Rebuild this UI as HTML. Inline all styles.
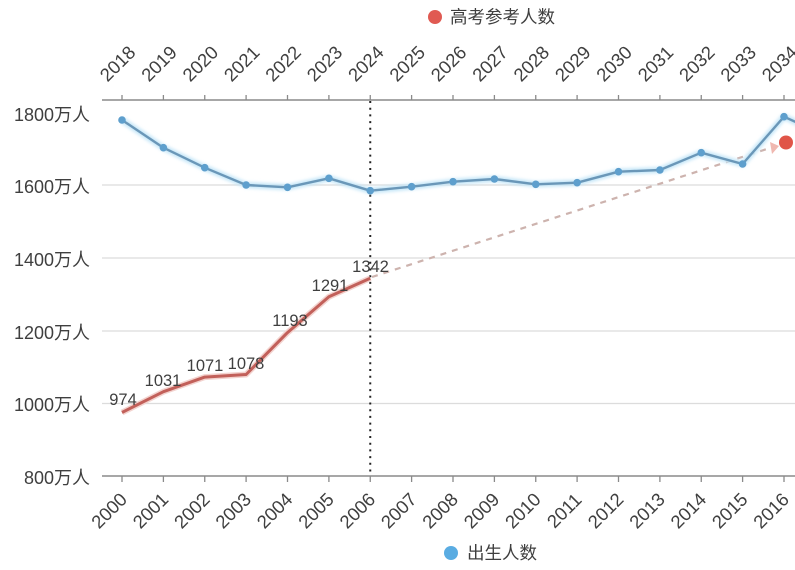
<!DOCTYPE html>
<html>
<head>
<meta charset="utf-8">
<style>
html,body{margin:0;padding:0;background:#fff;}
body{width:795px;height:570px;overflow:hidden;}
svg{display:block;}
text{font-family:"Liberation Sans","Noto Sans CJK SC",sans-serif;fill:#3f3f3f;}
</style>
</head>
<body>
<svg width="795" height="570" viewBox="0 0 795 570" xmlns="http://www.w3.org/2000/svg">
  <defs>
    <filter id="glowB" x="-10%" y="-10%" width="120%" height="120%">
      <feGaussianBlur stdDeviation="1.5"/>
    </filter>
  </defs>

  <!-- legend top -->
  <circle cx="435" cy="17" r="7" fill="#e05a52"/>
  <text x="450" y="23" font-size="17.5" fill="#555">高考参考人数</text>

  <!-- gridlines -->
  <g stroke="#dcdcdc" stroke-width="1.2">
    <line x1="102" y1="185" x2="795" y2="185"/>
    <line x1="102" y1="258" x2="795" y2="258"/>
    <line x1="102" y1="331" x2="795" y2="331"/>
    <line x1="102" y1="403.5" x2="795" y2="403.5"/>
  </g>

  <!-- axes -->
  <g stroke="#8a8a8a" stroke-width="1.5">
    <line x1="102" y1="100" x2="795" y2="100"/>
    <line x1="102" y1="476" x2="795" y2="476"/>
  </g>
  <g stroke="#8a8a8a" stroke-width="1.3">
    <line x1="122" y1="95" x2="122" y2="100"/><line x1="163.4" y1="95" x2="163.4" y2="100"/>
    <line x1="204.75" y1="95" x2="204.75" y2="100"/><line x1="246.1" y1="95" x2="246.1" y2="100"/>
    <line x1="287.5" y1="95" x2="287.5" y2="100"/><line x1="328.9" y1="95" x2="328.9" y2="100"/>
    <line x1="370.25" y1="95" x2="370.25" y2="100"/><line x1="411.6" y1="95" x2="411.6" y2="100"/>
    <line x1="453" y1="95" x2="453" y2="100"/><line x1="494.4" y1="95" x2="494.4" y2="100"/>
    <line x1="535.75" y1="95" x2="535.75" y2="100"/><line x1="577.1" y1="95" x2="577.1" y2="100"/>
    <line x1="618.5" y1="95" x2="618.5" y2="100"/><line x1="659.9" y1="95" x2="659.9" y2="100"/>
    <line x1="701.25" y1="95" x2="701.25" y2="100"/><line x1="742.6" y1="95" x2="742.6" y2="100"/>
    <line x1="784" y1="95" x2="784" y2="100"/>

    <line x1="122" y1="476" x2="122" y2="482"/><line x1="163.4" y1="476" x2="163.4" y2="482"/>
    <line x1="204.75" y1="476" x2="204.75" y2="482"/><line x1="246.1" y1="476" x2="246.1" y2="482"/>
    <line x1="287.5" y1="476" x2="287.5" y2="482"/><line x1="328.9" y1="476" x2="328.9" y2="482"/>
    <line x1="370.25" y1="476" x2="370.25" y2="482"/><line x1="411.6" y1="476" x2="411.6" y2="482"/>
    <line x1="453" y1="476" x2="453" y2="482"/><line x1="494.4" y1="476" x2="494.4" y2="482"/>
    <line x1="535.75" y1="476" x2="535.75" y2="482"/><line x1="577.1" y1="476" x2="577.1" y2="482"/>
    <line x1="618.5" y1="476" x2="618.5" y2="482"/><line x1="659.9" y1="476" x2="659.9" y2="482"/>
    <line x1="701.25" y1="476" x2="701.25" y2="482"/><line x1="742.6" y1="476" x2="742.6" y2="482"/>
    <line x1="784" y1="476" x2="784" y2="482"/>
  </g>

  <!-- y axis labels -->
  <g font-size="18" text-anchor="end">
    <text x="90" y="121">1800万人</text>
    <text x="90" y="193">1600万人</text>
    <text x="90" y="266">1400万人</text>
    <text x="90" y="339">1200万人</text>
    <text x="90" y="411">1000万人</text>
    <text x="90" y="484">800万人</text>
  </g>

  <!-- top year labels -->
  <g font-size="18.5" text-anchor="middle">
    <text transform="translate(117.5,63.5) rotate(-45)" y="6.5">2018</text>
    <text transform="translate(158.9,63.5) rotate(-45)" y="6.5">2019</text>
    <text transform="translate(200.25,63.5) rotate(-45)" y="6.5">2020</text>
    <text transform="translate(241.6,63.5) rotate(-45)" y="6.5">2021</text>
    <text transform="translate(283,63.5) rotate(-45)" y="6.5">2022</text>
    <text transform="translate(324.4,63.5) rotate(-45)" y="6.5">2023</text>
    <text transform="translate(365.75,63.5) rotate(-45)" y="6.5">2024</text>
    <text transform="translate(407.1,63.5) rotate(-45)" y="6.5">2025</text>
    <text transform="translate(448.5,63.5) rotate(-45)" y="6.5">2026</text>
    <text transform="translate(489.9,63.5) rotate(-45)" y="6.5">2027</text>
    <text transform="translate(531.25,63.5) rotate(-45)" y="6.5">2028</text>
    <text transform="translate(572.6,63.5) rotate(-45)" y="6.5">2029</text>
    <text transform="translate(614,63.5) rotate(-45)" y="6.5">2030</text>
    <text transform="translate(655.4,63.5) rotate(-45)" y="6.5">2031</text>
    <text transform="translate(696.75,63.5) rotate(-45)" y="6.5">2032</text>
    <text transform="translate(738.1,63.5) rotate(-45)" y="6.5">2033</text>
    <text transform="translate(779.5,63.5) rotate(-45)" y="6.5">2034</text>
  </g>

  <!-- bottom year labels -->
  <g font-size="18.5" text-anchor="middle">
    <text transform="translate(109,510.5) rotate(-45)" y="6.5">2000</text>
    <text transform="translate(150.4,510.5) rotate(-45)" y="6.5">2001</text>
    <text transform="translate(191.75,510.5) rotate(-45)" y="6.5">2002</text>
    <text transform="translate(233.1,510.5) rotate(-45)" y="6.5">2003</text>
    <text transform="translate(274.5,510.5) rotate(-45)" y="6.5">2004</text>
    <text transform="translate(315.9,510.5) rotate(-45)" y="6.5">2005</text>
    <text transform="translate(357.25,510.5) rotate(-45)" y="6.5">2006</text>
    <text transform="translate(398.6,510.5) rotate(-45)" y="6.5">2007</text>
    <text transform="translate(440,510.5) rotate(-45)" y="6.5">2008</text>
    <text transform="translate(481.4,510.5) rotate(-45)" y="6.5">2009</text>
    <text transform="translate(522.75,510.5) rotate(-45)" y="6.5">2010</text>
    <text transform="translate(564.1,510.5) rotate(-45)" y="6.5">2011</text>
    <text transform="translate(605.5,510.5) rotate(-45)" y="6.5">2012</text>
    <text transform="translate(646.9,510.5) rotate(-45)" y="6.5">2013</text>
    <text transform="translate(688.25,510.5) rotate(-45)" y="6.5">2014</text>
    <text transform="translate(729.6,510.5) rotate(-45)" y="6.5">2015</text>
    <text transform="translate(771,510.5) rotate(-45)" y="6.5">2016</text>
    <text transform="translate(812.4,510.5) rotate(-45)" y="6.5">2017</text>
  </g>

  <!-- vertical dotted line -->
  <line x1="370.25" y1="101" x2="370.25" y2="476" stroke="#222" stroke-width="2" stroke-dasharray="2 4.7"/>

  <!-- dashed projection line -->
  <line x1="372" y1="277" x2="770" y2="148" stroke="#cdb3ae" stroke-width="2.2" stroke-dasharray="6 6"/>
  <path d="M770,142 L779,146 L772,154 Z" fill="#f0b8b0"/>

  <!-- blue line glow -->
  <polyline fill="none" stroke="#c4e6f8" stroke-width="6" stroke-linejoin="round" filter="url(#glowB)"
    points="122,120 163.4,147.7 204.75,167.7 246.1,185 287.5,187.3 328.9,178.3 370.25,190.7 411.6,186.7 453,181.7 494.4,179 535.75,184.3 577.1,182.7 618.5,171.7 659.9,170 701.25,152.7 742.6,164 784,116.7 800,124"/>
  <polyline fill="none" stroke="#6a97b8" stroke-width="2.4" stroke-linejoin="round"
    points="122,120 163.4,147.7 204.75,167.7 246.1,185 287.5,187.3 328.9,178.3 370.25,190.7 411.6,186.7 453,181.7 494.4,179 535.75,184.3 577.1,182.7 618.5,171.7 659.9,170 701.25,152.7 742.6,164 784,116.7 800,124"/>
  <g fill="#5e9fcd">
    <circle cx="122" cy="120" r="3.8"/><circle cx="163.4" cy="147.7" r="3.8"/>
    <circle cx="204.75" cy="167.7" r="3.8"/><circle cx="246.1" cy="185" r="3.8"/>
    <circle cx="287.5" cy="187.3" r="3.8"/><circle cx="328.9" cy="178.3" r="3.8"/>
    <circle cx="370.25" cy="190.7" r="3.8"/><circle cx="411.6" cy="186.7" r="3.8"/>
    <circle cx="453" cy="181.7" r="3.8"/><circle cx="494.4" cy="179" r="3.8"/>
    <circle cx="535.75" cy="184.3" r="3.8"/><circle cx="577.1" cy="182.7" r="3.8"/>
    <circle cx="618.5" cy="171.7" r="3.8"/><circle cx="659.9" cy="170" r="3.8"/>
    <circle cx="701.25" cy="152.7" r="3.8"/><circle cx="742.6" cy="164" r="3.8"/>
    <circle cx="784" cy="116.7" r="3.8"/>
  </g>

  <!-- red line -->
  <polyline fill="none" stroke="#f3d3cf" stroke-width="6" stroke-linejoin="round"
    points="122,412.5 163.4,391.7 204.75,377.1 246.1,374.5 287.5,332.6 328.9,296.8 370.25,278.2"/>
  <polyline fill="none" stroke="#c2605a" stroke-width="3" stroke-linejoin="round"
    points="122,412.5 163.4,391.7 204.75,377.1 246.1,374.5 287.5,332.6 328.9,296.8 370.25,278.2"/>

  <!-- red end point -->
  <circle cx="786" cy="142.5" r="7" fill="#e05548"/>

  <!-- data labels -->
  <g font-size="16.5" text-anchor="middle">
    <text x="123" y="405">974</text>
    <text x="163" y="386">1031</text>
    <text x="205" y="371">1071</text>
    <text x="246" y="369">1078</text>
    <text x="290" y="326">1193</text>
    <text x="330" y="291">1291</text>
    <text x="370.5" y="272">1342</text>
  </g>

  <!-- legend bottom -->
  <circle cx="451" cy="553" r="7" fill="#5aace2"/>
  <text x="467" y="559" font-size="17.5" fill="#555">出生人数</text>
</svg>
</body>
</html>
